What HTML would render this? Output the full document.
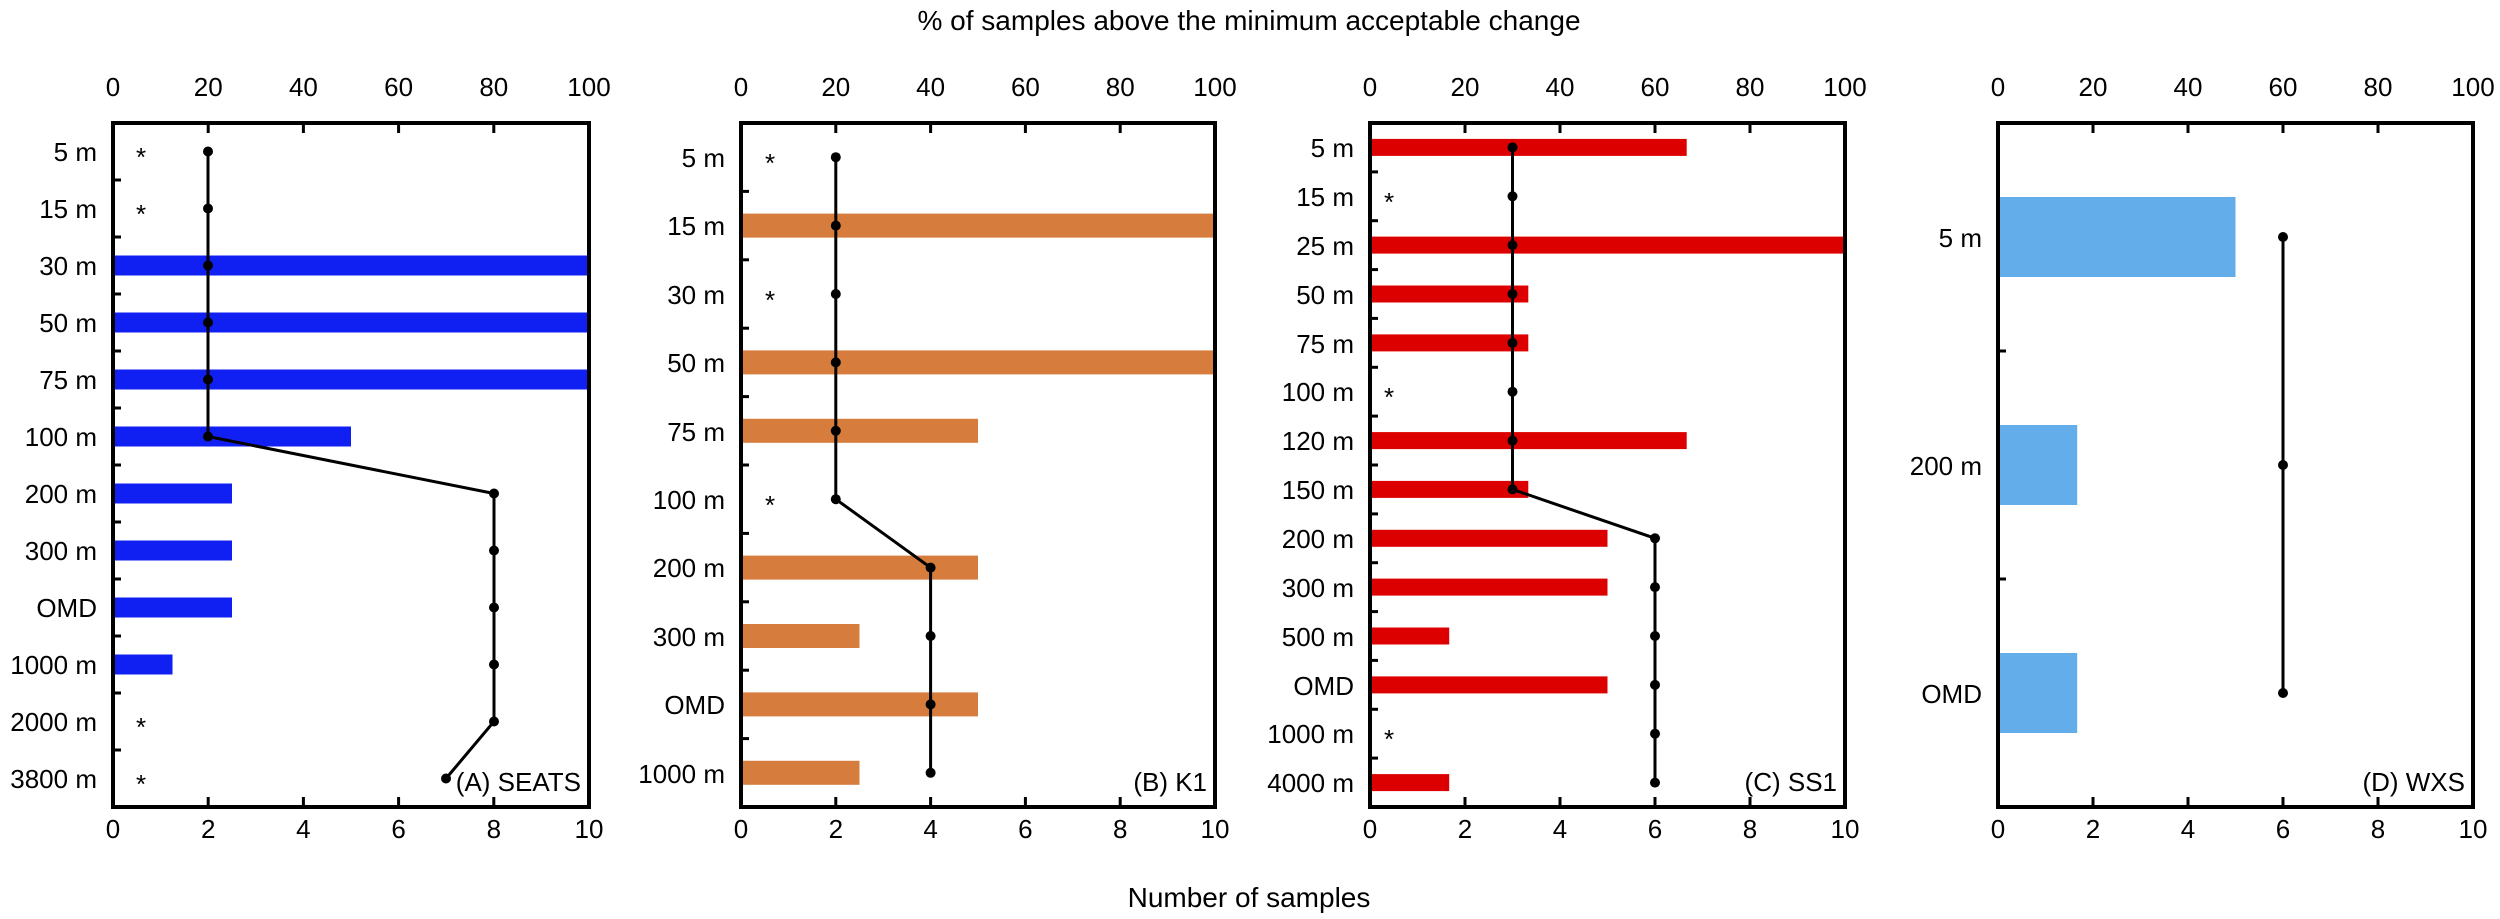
<!DOCTYPE html>
<html><head><meta charset="utf-8"><style>
html,body{margin:0;padding:0;background:#fff;}
svg{display:block;font-family:"Liberation Sans",Arial,sans-serif;}
.t{font-size:26px;fill:#000;}
.ax{fill:none;stroke:#000;stroke-width:4;}
.tk{stroke:#000;stroke-width:3;}
.ln{fill:none;stroke:#000;stroke-width:3;}
</style></head><body>
<svg width="2500" height="919" viewBox="0 0 2500 919" xmlns="http://www.w3.org/2000/svg">
<text x="1249" y="30" text-anchor="middle" style="font-size:28px">% of samples above the minimum acceptable change</text>
<text x="1249" y="907" text-anchor="middle" style="font-size:28px">Number of samples</text>

<!-- Panel A -->
<g>
<g fill="#1020f2">
<rect x="113" y="255.5" width="476" height="20"/>
<rect x="113" y="312.5" width="476" height="20"/>
<rect x="113" y="369.5" width="476" height="20"/>
<rect x="113" y="426.5" width="238" height="20"/>
<rect x="113" y="483.5" width="119" height="20"/>
<rect x="113" y="540.5" width="119" height="20"/>
<rect x="113" y="597.5" width="119" height="20"/>
<rect x="113" y="654.5" width="59.5" height="20"/>
</g>
<polyline class="ln" points="208,151.5 208,436.5 494,493.5 494,721.5 446,778.5"/>
<g fill="#000">
<circle cx="208" cy="151.5" r="5"/><circle cx="208" cy="208.5" r="5"/><circle cx="208" cy="265.5" r="5"/><circle cx="208" cy="322.5" r="5"/><circle cx="208" cy="379.5" r="5"/><circle cx="208" cy="436.5" r="5"/>
<circle cx="494" cy="493.5" r="5"/><circle cx="494" cy="550.5" r="5"/><circle cx="494" cy="607.5" r="5"/><circle cx="494" cy="664.5" r="5"/><circle cx="494" cy="721.5" r="5"/><circle cx="446" cy="778.5" r="5"/>
</g>
<rect class="ax" x="113" y="123" width="476" height="684"/>
<g class="tk">
<line x1="208.2" y1="123" x2="208.2" y2="133"/><line x1="303.4" y1="123" x2="303.4" y2="133"/><line x1="398.6" y1="123" x2="398.6" y2="133"/><line x1="493.8" y1="123" x2="493.8" y2="133"/>
<line x1="208.2" y1="807" x2="208.2" y2="797"/><line x1="303.4" y1="807" x2="303.4" y2="797"/><line x1="398.6" y1="807" x2="398.6" y2="797"/><line x1="493.8" y1="807" x2="493.8" y2="797"/>
<line x1="113" y1="180" x2="121" y2="180"/><line x1="113" y1="237" x2="121" y2="237"/><line x1="113" y1="294" x2="121" y2="294"/><line x1="113" y1="351" x2="121" y2="351"/><line x1="113" y1="408" x2="121" y2="408"/><line x1="113" y1="465" x2="121" y2="465"/><line x1="113" y1="522" x2="121" y2="522"/><line x1="113" y1="579" x2="121" y2="579"/><line x1="113" y1="636" x2="121" y2="636"/><line x1="113" y1="693" x2="121" y2="693"/><line x1="113" y1="750" x2="121" y2="750"/>
</g>
<g class="t" text-anchor="middle">
<text x="113" y="96">0</text><text x="208.2" y="96">20</text><text x="303.4" y="96">40</text><text x="398.6" y="96">60</text><text x="493.8" y="96">80</text><text x="589" y="96">100</text>
<text x="113" y="838">0</text><text x="208.2" y="838">2</text><text x="303.4" y="838">4</text><text x="398.6" y="838">6</text><text x="493.8" y="838">8</text><text x="589" y="838">10</text>
</g>
<g class="t" text-anchor="end">
<text x="97" y="161">5 m</text><text x="97" y="218">15 m</text><text x="97" y="275">30 m</text><text x="97" y="332">50 m</text><text x="97" y="389">75 m</text><text x="97" y="446">100 m</text><text x="97" y="503">200 m</text><text x="97" y="560">300 m</text><text x="97" y="617">OMD</text><text x="97" y="674">1000 m</text><text x="97" y="731">2000 m</text><text x="97" y="788">3800 m</text>
<text x="581" y="791">(A) SEATS</text>
</g>
<g class="t" text-anchor="middle">
<text x="141" y="166">*</text><text x="141" y="223">*</text><text x="141" y="736">*</text><text x="141" y="793">*</text>
</g>
</g>

<!-- Panel B -->
<g>
<g fill="#d67c3c">
<rect x="741" y="213.6" width="474" height="24"/>
<rect x="741" y="350.4" width="474" height="24"/>
<rect x="741" y="418.8" width="237" height="24"/>
<rect x="741" y="555.6" width="237" height="24"/>
<rect x="741" y="624" width="118.5" height="24"/>
<rect x="741" y="692.4" width="237" height="24"/>
<rect x="741" y="760.8" width="118.5" height="24"/>
</g>
<polyline class="ln" points="835.8,157.2 835.8,499.2 930.6,567.6 930.6,772.8"/>
<g fill="#000">
<circle cx="835.8" cy="157.2" r="5"/><circle cx="835.8" cy="225.6" r="5"/><circle cx="835.8" cy="294" r="5"/><circle cx="835.8" cy="362.4" r="5"/><circle cx="835.8" cy="430.8" r="5"/><circle cx="835.8" cy="499.2" r="5"/>
<circle cx="930.6" cy="567.6" r="5"/><circle cx="930.6" cy="636" r="5"/><circle cx="930.6" cy="704.4" r="5"/><circle cx="930.6" cy="772.8" r="5"/>
</g>
<rect class="ax" x="741" y="123" width="474" height="684"/>
<g class="tk">
<line x1="835.8" y1="123" x2="835.8" y2="133"/><line x1="930.6" y1="123" x2="930.6" y2="133"/><line x1="1025.4" y1="123" x2="1025.4" y2="133"/><line x1="1120.2" y1="123" x2="1120.2" y2="133"/>
<line x1="835.8" y1="807" x2="835.8" y2="797"/><line x1="930.6" y1="807" x2="930.6" y2="797"/><line x1="1025.4" y1="807" x2="1025.4" y2="797"/><line x1="1120.2" y1="807" x2="1120.2" y2="797"/>
<line x1="741" y1="191.4" x2="749" y2="191.4"/><line x1="741" y1="259.8" x2="749" y2="259.8"/><line x1="741" y1="328.2" x2="749" y2="328.2"/><line x1="741" y1="396.6" x2="749" y2="396.6"/><line x1="741" y1="465" x2="749" y2="465"/><line x1="741" y1="533.4" x2="749" y2="533.4"/><line x1="741" y1="601.8" x2="749" y2="601.8"/><line x1="741" y1="670.2" x2="749" y2="670.2"/><line x1="741" y1="738.6" x2="749" y2="738.6"/>
</g>
<g class="t" text-anchor="middle">
<text x="741" y="96">0</text><text x="835.8" y="96">20</text><text x="930.6" y="96">40</text><text x="1025.4" y="96">60</text><text x="1120.2" y="96">80</text><text x="1215" y="96">100</text>
<text x="741" y="838">0</text><text x="835.8" y="838">2</text><text x="930.6" y="838">4</text><text x="1025.4" y="838">6</text><text x="1120.2" y="838">8</text><text x="1215" y="838">10</text>
</g>
<g class="t" text-anchor="end">
<text x="725" y="167">5 m</text><text x="725" y="235">15 m</text><text x="725" y="304">30 m</text><text x="725" y="372">50 m</text><text x="725" y="441">75 m</text><text x="725" y="509">100 m</text><text x="725" y="577">200 m</text><text x="725" y="646">300 m</text><text x="725" y="714">OMD</text><text x="725" y="783">1000 m</text>
<text x="1207" y="791">(B) K1</text>
</g>
<g class="t" text-anchor="middle">
<text x="770" y="172">*</text><text x="770" y="309">*</text><text x="770" y="514">*</text>
</g>
</g>

<!-- Panel C -->
<g>
<g fill="#dd0000">
<rect x="1370" y="138.9" width="316.7" height="17"/>
<rect x="1370" y="236.6" width="475" height="17"/>
<rect x="1370" y="285.5" width="158.3" height="17"/>
<rect x="1370" y="334.4" width="158.3" height="17"/>
<rect x="1370" y="432.1" width="316.7" height="17"/>
<rect x="1370" y="480.9" width="158.3" height="17"/>
<rect x="1370" y="529.8" width="237.5" height="17"/>
<rect x="1370" y="578.6" width="237.5" height="17"/>
<rect x="1370" y="627.5" width="79.2" height="17"/>
<rect x="1370" y="676.4" width="237.5" height="17"/>
<rect x="1370" y="774.1" width="79.2" height="17"/>
</g>
<polyline class="ln" points="1512.5,147.4 1512.5,489.4 1655,538.3 1655,782.6"/>
<g fill="#000">
<circle cx="1512.5" cy="147.4" r="5"/><circle cx="1512.5" cy="196.3" r="5"/><circle cx="1512.5" cy="245.1" r="5"/><circle cx="1512.5" cy="294" r="5"/><circle cx="1512.5" cy="342.9" r="5"/><circle cx="1512.5" cy="391.7" r="5"/><circle cx="1512.5" cy="440.6" r="5"/><circle cx="1512.5" cy="489.4" r="5"/>
<circle cx="1655" cy="538.3" r="5"/><circle cx="1655" cy="587.1" r="5"/><circle cx="1655" cy="636" r="5"/><circle cx="1655" cy="684.9" r="5"/><circle cx="1655" cy="733.7" r="5"/><circle cx="1655" cy="782.6" r="5"/>
</g>
<rect class="ax" x="1370" y="123" width="475" height="684"/>
<g class="tk">
<line x1="1465" y1="123" x2="1465" y2="133"/><line x1="1560" y1="123" x2="1560" y2="133"/><line x1="1655" y1="123" x2="1655" y2="133"/><line x1="1750" y1="123" x2="1750" y2="133"/>
<line x1="1465" y1="807" x2="1465" y2="797"/><line x1="1560" y1="807" x2="1560" y2="797"/><line x1="1655" y1="807" x2="1655" y2="797"/><line x1="1750" y1="807" x2="1750" y2="797"/>
<line x1="1370" y1="171.9" x2="1378" y2="171.9"/><line x1="1370" y1="220.7" x2="1378" y2="220.7"/><line x1="1370" y1="269.6" x2="1378" y2="269.6"/><line x1="1370" y1="318.4" x2="1378" y2="318.4"/><line x1="1370" y1="367.3" x2="1378" y2="367.3"/><line x1="1370" y1="416.1" x2="1378" y2="416.1"/><line x1="1370" y1="465" x2="1378" y2="465"/><line x1="1370" y1="513.9" x2="1378" y2="513.9"/><line x1="1370" y1="562.7" x2="1378" y2="562.7"/><line x1="1370" y1="611.6" x2="1378" y2="611.6"/><line x1="1370" y1="660.4" x2="1378" y2="660.4"/><line x1="1370" y1="709.3" x2="1378" y2="709.3"/><line x1="1370" y1="758.1" x2="1378" y2="758.1"/>
</g>
<g class="t" text-anchor="middle">
<text x="1370" y="96">0</text><text x="1465" y="96">20</text><text x="1560" y="96">40</text><text x="1655" y="96">60</text><text x="1750" y="96">80</text><text x="1845" y="96">100</text>
<text x="1370" y="838">0</text><text x="1465" y="838">2</text><text x="1560" y="838">4</text><text x="1655" y="838">6</text><text x="1750" y="838">8</text><text x="1845" y="838">10</text>
</g>
<g class="t" text-anchor="end">
<text x="1354" y="157">5 m</text><text x="1354" y="206">15 m</text><text x="1354" y="255">25 m</text><text x="1354" y="304">50 m</text><text x="1354" y="353">75 m</text><text x="1354" y="401">100 m</text><text x="1354" y="450">120 m</text><text x="1354" y="499">150 m</text><text x="1354" y="548">200 m</text><text x="1354" y="597">300 m</text><text x="1354" y="646">500 m</text><text x="1354" y="695">OMD</text><text x="1354" y="743">1000 m</text><text x="1354" y="792">4000 m</text>
<text x="1837" y="791">(C) SS1</text>
</g>
<g class="t" text-anchor="middle">
<text x="1389" y="211">*</text><text x="1389" y="406">*</text><text x="1389" y="748">*</text>
</g>
</g>

<!-- Panel D -->
<g>
<g fill="#63aeea">
<rect x="1998" y="197" width="237.5" height="80"/>
<rect x="1998" y="425" width="79.2" height="80"/>
<rect x="1998" y="653" width="79.2" height="80"/>
</g>
<polyline class="ln" points="2283,237 2283,693"/>
<g fill="#000"><circle cx="2283" cy="237" r="5"/><circle cx="2283" cy="465" r="5"/><circle cx="2283" cy="693" r="5"/></g>
<rect class="ax" x="1998" y="123" width="475" height="684"/>
<g class="tk">
<line x1="2093" y1="123" x2="2093" y2="133"/><line x1="2188" y1="123" x2="2188" y2="133"/><line x1="2283" y1="123" x2="2283" y2="133"/><line x1="2378" y1="123" x2="2378" y2="133"/>
<line x1="2093" y1="807" x2="2093" y2="797"/><line x1="2188" y1="807" x2="2188" y2="797"/><line x1="2283" y1="807" x2="2283" y2="797"/><line x1="2378" y1="807" x2="2378" y2="797"/>
<line x1="1998" y1="351" x2="2006" y2="351"/><line x1="1998" y1="579" x2="2006" y2="579"/>
</g>
<g class="t" text-anchor="middle">
<text x="1998" y="96">0</text><text x="2093" y="96">20</text><text x="2188" y="96">40</text><text x="2283" y="96">60</text><text x="2378" y="96">80</text><text x="2473" y="96">100</text>
<text x="1998" y="838">0</text><text x="2093" y="838">2</text><text x="2188" y="838">4</text><text x="2283" y="838">6</text><text x="2378" y="838">8</text><text x="2473" y="838">10</text>
</g>
<g class="t" text-anchor="end">
<text x="1982" y="247">5 m</text><text x="1982" y="475">200 m</text><text x="1982" y="703">OMD</text>
<text x="2465" y="791">(D) WXS</text>
</g>
</g>
</svg>
</body></html>
